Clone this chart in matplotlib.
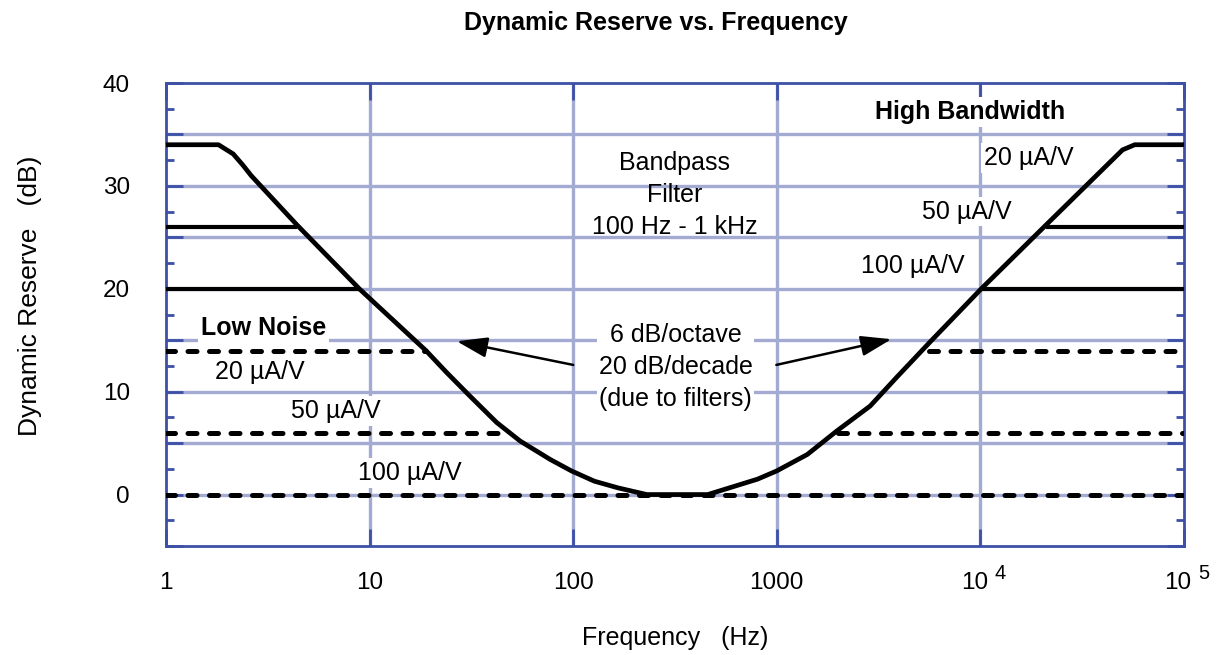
import matplotlib
matplotlib.use("Agg")
import matplotlib.pyplot as plt
import matplotlib.transforms as mtransforms
from matplotlib.ticker import FixedLocator, FuncFormatter, NullLocator

plt.rcParams['font.family'] = ['Liberation Sans', 'DejaVu Sans']

# ---------------- data ----------------
# main response curve (High Bandwidth, 20 uA/V)
curve_freq = [1, 1.81, 2.14, 2.39, 2.62, 4.4, 8.9, 18.9, 23.8, 31.0, 42.1, 54.9,
              77.3, 98, 127, 166, 230, 458, 805, 1000, 1413, 1977, 2873, 3881,
              5640, 10100, 21000, 49900, 57300, 100000]
curve_db = [34, 34, 33.1, 32.0, 31.0, 26.2, 20.0, 14.0, 11.9, 9.6, 7.0, 5.2,
            3.4, 2.3, 1.3, 0.65, 0, 0, 1.5, 2.3, 3.9, 6.2, 8.6, 11.4,
            14.8, 20.0, 26.2, 33.5, 34, 34]

# High Bandwidth flat segments (solid)
hb50_left_freq = [1, 4.4]
hb50_right_freq = [21000, 100000]
hb50_db = 26
hb100_left_freq = [1, 8.9]
hb100_right_freq = [10100, 100000]
hb100_db = 20

# Low Noise segments (dashed)
ln20_left_freq = [1, 18.9]
ln20_right_freq = [5600, 100000]
ln20_db = 14
ln50_left_freq = [1, 46]
ln50_right_freq = [2000, 100000]
ln50_db = 6
ln100_freq = [1, 100000]
ln100_db = 0

x_ticks = [1, 10, 100, 1000, 1e4, 1e5]
x_tick_bases = ['1', '10', '100', '1000', '10', '10']
x_tick_exps = ['', '', '', '', '4', '5']
y_major = [-5, 0, 5, 10, 15, 20, 25, 30, 35, 40]
y_minor = [-2.5, 2.5, 7.5, 12.5, 17.5, 22.5, 27.5, 32.5, 37.5]
x_grid = [10, 100, 1000, 1e4]

# ---------------- figure ----------------
frame_c = '#3c50a5'
grid_c = '#a3abd3'
fs = 18

fig = plt.figure(figsize=(12.18, 6.55), dpi=100)
ax = fig.add_axes([166/1218, 1-546/655, (1184-166)/1218, (546-83)/655])
ax.set_xscale('log')
ax.set_xlim(1, 1e5)
ax.set_ylim(-5, 40)
ax.set_axisbelow(True)

# grid
for yv in y_major[1:-1]:
    ax.axhline(yv, color=grid_c, lw=2.4, zorder=0.5)
for xv in x_grid:
    ax.axvline(xv, color=grid_c, lw=2.4, zorder=0.5)

# lines
ax.plot(curve_freq, curve_db, color='black', lw=3.4, zorder=3, solid_joinstyle='round')
for fr, db in [(hb50_left_freq, hb50_db), (hb50_right_freq, hb50_db),
               (hb100_left_freq, hb100_db), (hb100_right_freq, hb100_db)]:
    ax.plot(fr, [db, db], color='black', lw=3.0, zorder=3, solid_capstyle='butt')
for fr, db in [(ln20_left_freq, ln20_db), (ln20_right_freq, ln20_db),
               (ln50_left_freq, ln50_db), (ln50_right_freq, ln50_db),
               (ln100_freq, ln100_db)]:
    ax.plot(fr, [db, db], color='black', lw=3.6, zorder=3,
            dashes=(1.8, 2.5), dash_capstyle='round')

# spines & ticks
for s in ax.spines.values():
    s.set_color(frame_c)
    s.set_linewidth(2.0)
ax.xaxis.set_major_locator(FixedLocator(x_ticks))
ax.xaxis.set_minor_locator(NullLocator())
ax.set_xticklabels(x_tick_bases)
ax.yaxis.set_major_locator(FixedLocator(y_major))
ax.yaxis.set_minor_locator(FixedLocator(y_minor))
ax.yaxis.set_major_formatter(FuncFormatter(lambda v, p: '%d' % v if v % 10 == 0 else ''))
ax.tick_params(which='both', direction='in', color=frame_c, width=2.0,
               top=True, right=True, labelsize=17.5)
ax.tick_params(which='major', length=12)
ax.tick_params(which='minor', length=6)
ax.tick_params(axis='y', which='major', pad=26)
ax.tick_params(axis='x', which='major', pad=31)
blend = mtransforms.blended_transform_factory(ax.transData, ax.transAxes)
for lbl, ex, xv in zip(ax.get_xticklabels(), x_tick_exps, x_ticks):
    lbl.set_va('baseline')
    if ex:
        lbl.set_transform(lbl.get_transform() +
                          mtransforms.ScaledTranslation(-6/100, 0, fig.dpi_scale_trans))
        ax.text(xv, 0, ex, transform=blend + mtransforms.ScaledTranslation(
                    14/100, -(579-546)/100, fig.dpi_scale_trans),
                ha='left', va='baseline', fontsize=14.5)

# labels
fig.text(675/1218, 1-638/655, 'Frequency   (Hz)', ha='center', va='center', fontsize=fs)
fig.text(30/1218, 1-296/655, 'Dynamic Reserve   (dB)', ha='center', va='center',
         rotation=90, fontsize=19)
fig.text(656/1218, 1-23/655, 'Dynamic Reserve vs. Frequency', ha='center', va='center',
         fontsize=18, fontweight='bold')

box = dict(facecolor='white', edgecolor='none', pad=2)
tkw = dict(ha='center', va='center', fontsize=fs, zorder=1, bbox=box)
ax.text(3.0, 16.2, 'Low Noise', fontweight='bold', **tkw)
ax.text(2.9, 11.9, '20 µA/V', **tkw)
ax.text(6.8, 8.1, '50 µA/V', **tkw)
ax.text(15.8, 2.1, '100 µA/V', **tkw)
ax.text(8900, 37.2, 'High Bandwidth', fontweight='bold', **tkw)
ax.text(17200, 32.7, '20 µA/V', **tkw)
ax.text(8600, 27.5, '50 µA/V', **tkw)
ax.text(4650, 22.2, '100 µA/V', **tkw)
ax.text(316, 29.1, 'Bandpass\nFilter\n100 Hz - 1 kHz', ha='center', va='center',
        fontsize=fs, zorder=1, linespacing=1.42)
ax.text(318, 12.4, '6 dB/octave\n20 dB/decade\n(due to filters)', ha='center', va='center',
        fontsize=fs, zorder=1, linespacing=1.42,
        bbox=dict(facecolor='white', edgecolor='none', pad=1))

arrow = dict(arrowstyle='-|>,head_length=0.75,head_width=0.25', lw=1.8, color='black',
             shrinkA=0, shrinkB=0, mutation_scale=25)
ax.annotate('', xy=(26.8, 14.9), xytext=(100, 12.6), arrowprops=arrow, zorder=4)
ax.annotate('', xy=(3656, 15.1), xytext=(995, 12.6), arrowprops=arrow, zorder=4)

fig.savefig('out.png', dpi=100, facecolor='white')
